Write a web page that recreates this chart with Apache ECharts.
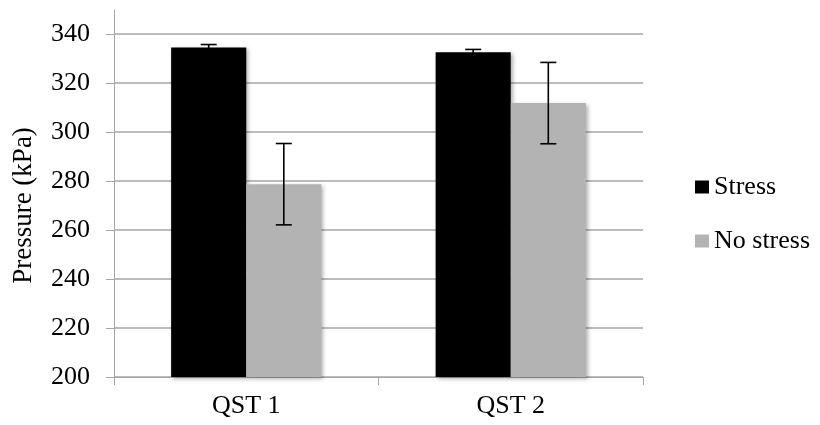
<!DOCTYPE html>
<html>
<head>
<meta charset="utf-8">
<script src="https://cdn.jsdelivr.net/npm/echarts@6/dist/echarts.min.js"></script>
<style>
  html, body { margin: 0; padding: 0; background: #fff; }
  #chart { width: 820px; height: 425px; }
</style>
</head>
<body>
<div id="chart"></div>
<script>
// Peak pressure per test, with and without stress
const categories = ['QST 1', 'QST 2'];
const seriesNames = ['Stress', 'No stress'];
const stressValues = [334.5, 332.6];
const stressErrors = [1.2, 1.1];
const noStressValues = [278.7, 311.8];
const noStressErrors = [16.6, 16.6];
const yTicks = [200, 220, 240, 260, 280, 300, 320, 340];

const FONT = '"Liberation Serif", "Times New Roman", serif';
const AXIS_GRAY = '#a6a6a6';
const BAR_RATIO = 0.284; // bar width as a share of the category band

const chart = echarts.init(document.getElementById('chart'), null, { renderer: 'canvas' });

// Draws an error bar (stem + caps) centred on one bar of the group
function errorBarRenderer(offsetSign, values, errors) {
  return function (params, api) {
    const i = api.value(0);
    const band = api.size([1, 0])[0];
    const dx = offsetSign * band * BAR_RATIO / 2;
    const hi = api.coord([i, values[i] + errors[i]]);
    const lo = api.coord([i, values[i] - errors[i]]);
    const x = hi[0] + dx;
    const capHalf = 8;
    const style = { stroke: '#000', lineWidth: 1.6 };
    return {
      type: 'group',
      children: [
        { type: 'line', shape: { x1: x, y1: hi[1], x2: x, y2: lo[1] }, style },
        { type: 'line', shape: { x1: x - capHalf, y1: hi[1], x2: x + capHalf, y2: hi[1] }, style },
        { type: 'line', shape: { x1: x - capHalf, y1: lo[1], x2: x + capHalf, y2: lo[1] }, style }
      ]
    };
  };
}

const barShadow = {
  shadowBlur: 4,
  shadowOffsetX: 2,
  shadowOffsetY: 2,
  shadowColor: 'rgba(0,0,0,0.3)'
};

chart.setOption({
  animation: false,
  backgroundColor: '#fff',
  grid: [
    { left: 114, right: 177, top: 34, bottom: 48 },
    // taller companion grid: only carries the vertical axis line above the top gridline
    { left: 114, right: 177, top: 10, bottom: 48 }
  ],
  legend: {
    orient: 'vertical',
    left: 690,
    top: 167,
    itemWidth: 14,
    itemHeight: 13,
    itemGap: 24,
    icon: 'rect',
    data: seriesNames,
    textStyle: { fontFamily: FONT, fontSize: 26, color: '#000', lineHeight: 30 }
  },
  xAxis: [
    {
      type: 'category',
      gridIndex: 0,
      data: categories,
      axisLine: { lineStyle: { color: AXIS_GRAY, width: 1 } },
      axisTick: { show: true, length: 8, lineStyle: { color: AXIS_GRAY } },
      axisLabel: { fontFamily: FONT, fontSize: 26, color: '#000', margin: 16 },
      splitLine: { show: false }
    },
    { type: 'category', gridIndex: 1, data: categories, show: false }
  ],
  yAxis: [
    {
      type: 'value',
      gridIndex: 0,
      min: yTicks[0],
      max: yTicks[yTicks.length - 1],
      interval: yTicks[1] - yTicks[0],
      name: 'Pressure (kPa)',
      nameLocation: 'middle',
      nameGap: 77,
      nameTextStyle: { fontFamily: FONT, fontSize: 27, color: '#000' },
      axisLine: { show: true, lineStyle: { color: AXIS_GRAY, width: 1 } },
      axisTick: { show: true, length: 8, lineStyle: { color: AXIS_GRAY } },
      axisLabel: { fontFamily: FONT, fontSize: 26, color: '#000', margin: 24 },
      splitLine: { show: true, lineStyle: { color: AXIS_GRAY, width: 1.5 } }
    },
    {
      type: 'value',
      gridIndex: 1,
      min: 0,
      max: 1,
      axisLine: { show: true, lineStyle: { color: AXIS_GRAY, width: 1 } },
      axisTick: { show: false },
      axisLabel: { show: false },
      splitLine: { show: false }
    }
  ],
  series: [
    {
      name: seriesNames[0],
      type: 'bar',
      data: stressValues,
      barWidth: (BAR_RATIO * 100) + '%',
      barGap: '0%',
      itemStyle: Object.assign({ color: '#000000' }, barShadow),
      z: 2
    },
    {
      name: seriesNames[1],
      type: 'bar',
      data: noStressValues,
      barWidth: (BAR_RATIO * 100) + '%',
      barGap: '0%',
      itemStyle: Object.assign({ color: '#b3b3b3' }, barShadow),
      z: 2
    },
    {
      type: 'custom',
      renderItem: errorBarRenderer(-1, stressValues, stressErrors),
      data: categories.map((c, i) => [i]),
      encode: { x: 0 },
      z: 5,
      silent: true
    },
    {
      type: 'custom',
      renderItem: errorBarRenderer(1, noStressValues, noStressErrors),
      data: categories.map((c, i) => [i]),
      encode: { x: 0 },
      z: 5,
      silent: true
    }
  ]
});
</script>
</body>
</html>
